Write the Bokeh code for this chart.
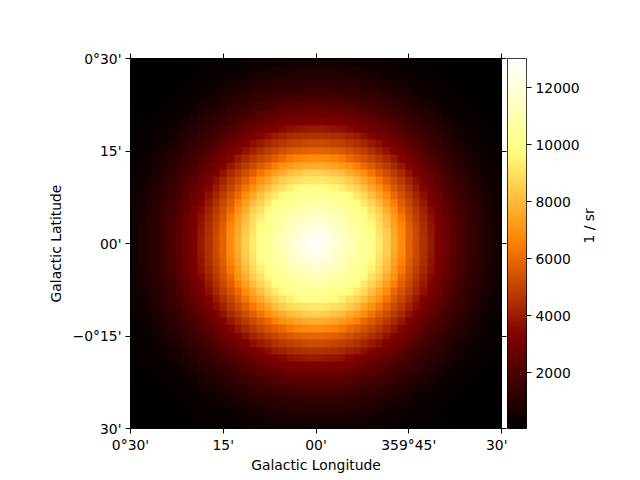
from bokeh.plotting import figure
from bokeh.layouts import row
from bokeh.models import LinearColorMapper, FixedTicker, LinearAxis, Range1d
from bokeh.embed import file_html
from bokeh.resources import INLINE
import numpy as np
import math

# Radial brightness (1 / sr), per map cell from the centre outward
radial_values = [12870, 12480, 12090, 11570, 11180, 10660, 10270, 10010, 9230,
                 8580, 7670, 6890, 5850, 5200, 4550, 3900, 3250, 2860, 2340,
                 1950, 1560, 1300, 1040, 780, 520, 390, 290, 220, 170, 130,
                 100, 80, 65, 50, 35]
n_cells = 50
lon_ticks = [0.5, 0.25, 0, -0.25, -0.5]
lon_labels = ["0°30'", "15'", "00'", "359°45'", "30'"]
lat_ticks = [-0.5, -0.25, 0, 0.25, 0.5]
lat_labels = ["30'", "−0°15'", "00'", "15'", "0°30'"]
cbar_ticks = [2000, 4000, 6000, 8000, 10000, 12000]
vmin, vmax = 35, 13035


def afmhot(v):
    return "#%02x%02x%02x" % tuple(int(round(255 * min(max(c, 0), 1))) for c in (2 * v, 2 * v - 0.5, 2 * v - 1))


palette = [afmhot(i / 255) for i in range(256)]
mapper = LinearColorMapper(palette=palette, low=vmin, high=vmax)

idx = np.arange(n_cells) - (n_cells - 1) / 2
radius = np.hypot(*np.meshgrid(idx, idx))
grid = np.interp(radius, np.arange(len(radial_values)) + 0.5, radial_values)

FONT = "DejaVu Sans"


def style(ax):
    ax.major_tick_line_color = "black"
    ax.major_tick_line_width = 1
    ax.major_tick_out = 5
    ax.major_tick_in = 0
    ax.minor_tick_line_color = None
    ax.axis_line_color = None
    ax.major_label_text_font = FONT
    ax.major_label_text_font_size = "13.9px"
    ax.major_label_text_color = "black"
    ax.major_label_standoff = 4
    ax.axis_label_text_font = FONT
    ax.axis_label_text_font_size = "13.9px"
    ax.axis_label_text_font_style = "normal"
    ax.axis_label_text_color = "black"
    ax.axis_label_standoff = 6


p = figure(width=507, height=480, output_backend="svg", toolbar_location=None,
           frame_width=371, frame_height=370,
           x_range=Range1d(0.5, -0.5), y_range=Range1d(-0.5, 0.5),
           min_border_left=130, min_border_right=6, min_border_top=58, min_border_bottom=52,
           x_axis_label="Galactic Longitude", y_axis_label="Galactic Latitude")
p.image(image=[grid], x=-0.5, y=-0.5, dw=1, dh=1, color_mapper=mapper)
p.grid.visible = False
p.outline_line_color = "black"
p.outline_line_width = 1
p.background_fill_color = "white"
p.xaxis.ticker = FixedTicker(ticks=lon_ticks)
p.yaxis.ticker = FixedTicker(ticks=lat_ticks)
p.xaxis.major_label_overrides = dict(zip(lon_ticks, lon_labels))
p.yaxis.major_label_overrides = dict(zip(lat_ticks, lat_labels))
style(p.xaxis[0])
style(p.yaxis[0])
p.xaxis[0].major_label_standoff = 3
p.xaxis[0].axis_label_standoff = 1

top = LinearAxis(ticker=FixedTicker(ticks=lon_ticks))
right = LinearAxis(ticker=FixedTicker(ticks=lat_ticks))
style(top)
style(right)
top.major_label_overrides = {t: "" for t in lon_ticks}
right.major_label_overrides = {t: "" for t in lat_ticks}
top.major_label_standoff = 0
right.major_label_standoff = 0
p.add_layout(top, "above")
p.add_layout(right, "right")

cb = figure(width=133, height=480, output_backend="svg", toolbar_location=None,
            frame_width=19, frame_height=370,
            x_range=Range1d(0, 1), y_range=Range1d(vmin, vmax),
            min_border_left=0, min_border_right=114, min_border_top=58, min_border_bottom=52,
            x_axis_location=None, y_axis_location="right", y_axis_label="1 / sr")
ramp = np.linspace(vmin, vmax, 256).reshape(256, 1)
cb.image(image=[ramp], x=0, y=vmin, dw=1, dh=vmax - vmin, color_mapper=mapper)
cb.grid.visible = False
cb.outline_line_color = "black"
cb.outline_line_width = 1
cb.yaxis.ticker = FixedTicker(ticks=cbar_ticks)
cb.yaxis.formatter.use_scientific = False
style(cb.yaxis[0])
cb.yaxis[0].axis_label_orientation = math.pi / 2

layout = row(p, cb, spacing=0)
open("out.html", "w").write(file_html(layout, INLINE))
